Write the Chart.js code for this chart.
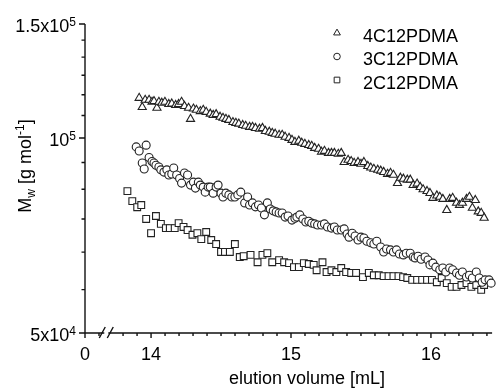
<!DOCTYPE html>
<html>
<head>
<meta charset="utf-8">
<script src="https://cdn.jsdelivr.net/npm/chart.js@4.4.1/dist/chart.umd.min.js"></script>
<style>
  html, body { margin: 0; padding: 0; background: #fff; }
</style>
</head>
<body>
<canvas id="grafik" width="498" height="388"></canvas>
<script>
// elution volume [mL] and Mw [g/mol]
const vol4C = [
  13.915, 13.937, 13.958, 13.986, 14.007, 14.021, 14.042, 14.056, 14.077, 14.099,
  14.127, 14.148, 14.176, 14.197, 14.218, 14.239, 14.268, 14.282, 14.303, 14.324,
  14.352, 14.373, 14.394, 14.423, 14.444, 14.465, 14.493, 14.514, 14.535, 14.556,
  14.585, 14.606, 14.627, 14.655, 14.676, 14.704, 14.725, 14.746, 14.775, 14.796,
  14.817, 14.845, 14.866, 14.887, 14.915, 14.937, 14.958, 14.986, 15.007, 15.028,
  15.056, 15.077, 15.099, 15.127, 15.148, 15.169, 15.197, 15.218, 15.239, 15.268,
  15.289, 15.310, 15.338, 15.359, 15.380, 15.408, 15.430, 15.451, 15.479, 15.500,
  15.521, 15.549, 15.570, 15.592, 15.620, 15.641, 15.662, 15.690, 15.711, 15.732,
  15.761, 15.782, 15.803, 15.831, 15.852, 15.873, 15.901, 15.923, 15.944, 15.972,
  15.993, 16.014, 16.042, 16.063, 16.085, 16.113, 16.134, 16.155, 16.183, 16.204,
  16.225, 16.254, 16.275, 16.296, 16.317, 16.338, 16.359, 16.380
];
const mw4C = [
  115300, 111600, 114500, 114500, 113700, 114000, 111300, 113700, 113300, 113700,
  112800, 113000, 112400, 112800, 113700, 112000, 111300, 107000, 111000, 110500,
  110000, 110500, 109700, 109000, 108500, 108800, 107800, 107400, 107000, 106600,
  105800, 105500, 105200, 104700, 104400, 104000, 104000, 103600, 103300, 103600,
  102500, 102200, 101800, 101500, 101100, 101100, 100400, 100000, 99300, 98600,
  99000, 98300, 97900, 97500, 97200, 96500, 96200, 95200, 95500, 94800,
  94800, 94800, 94500, 94800, 91800, 92500, 92100, 91500, 91800, 91200,
  91800, 90500, 90000, 89600, 89300, 89000, 88600, 88000, 88300, 87700,
  85200, 86800, 86500, 86200, 86200, 84600, 85000, 84000, 83300, 82800,
  82200, 80800, 81500, 81100, 80500, 77400, 80500, 80800, 79400, 78800,
  79400, 80500, 81100, 78000, 80200, 77000, 76600, 75300
];

const vol3C = [
  13.894, 13.915, 13.937, 13.951, 13.965, 13.986, 14.007, 14.021, 14.035, 14.056,
  14.070, 14.092, 14.113, 14.127, 14.148, 14.162, 14.183, 14.204, 14.218, 14.239,
  14.261, 14.282, 14.303, 14.317, 14.338, 14.352, 14.373, 14.387, 14.408, 14.423,
  14.444, 14.465, 14.479, 14.500, 14.514, 14.535, 14.556, 14.577, 14.599, 14.620,
  14.641, 14.669, 14.690, 14.704, 14.725, 14.746, 14.768, 14.789, 14.810, 14.831,
  14.852, 14.873, 14.894, 14.915, 14.937, 14.958, 14.979, 15.007, 15.028, 15.042,
  15.063, 15.085, 15.106, 15.127, 15.148, 15.169, 15.190, 15.218, 15.239, 15.261,
  15.289, 15.310, 15.331, 15.359, 15.380, 15.401, 15.415, 15.437, 15.458, 15.479,
  15.500, 15.521, 15.542, 15.570, 15.592, 15.613, 15.641, 15.662, 15.683, 15.711,
  15.732, 15.754, 15.775, 15.803, 15.824, 15.852, 15.873, 15.887, 15.908, 15.930,
  15.958, 15.979, 15.993, 16.014, 16.035, 16.063, 16.085, 16.106, 16.134, 16.155,
  16.183, 16.204, 16.225, 16.254, 16.275, 16.296, 16.324, 16.345, 16.366, 16.387,
  16.415, 16.430
];
const mw3C = [
  96900, 95500, 91500, 89600, 97500, 93300, 92000, 91500, 90800, 90200,
  89300, 88600, 89300, 87700, 88000, 89900, 87700, 86600, 85200, 88300,
  87700, 84600, 85500, 83700, 85500, 84600, 84000, 82500, 84000, 84000,
  82200, 84000, 84600, 82200, 81100, 82200, 81700, 81100, 81100, 81700,
  82500, 79400, 81100, 78800, 79400, 78300, 78800, 78000, 76100, 79400,
  77700, 77200, 76900, 76600, 76600, 75500, 75800, 74700, 75200, 75500,
  76100, 75000, 74200, 74400, 73900, 73700, 73400, 73400, 73700, 72900,
  72600, 72900, 72100, 72100, 72400, 71100, 70300, 71300, 70600, 69600,
  70300, 70100, 69300, 68900, 68600, 69300, 67900, 66700, 67400, 67200,
  66700, 67200, 66200, 66000, 66400, 66400, 65500, 65300, 65700, 65000,
  65500, 64800, 63700, 64100, 63200, 62600, 63000, 62100, 63000, 62600,
  61900, 61400, 62100, 61000, 61400, 60800, 62100, 60800, 59900, 60400,
  60400, 59700
];

const vol2C = [
  13.831, 13.866, 13.901, 13.930, 13.965, 14.000, 14.035, 14.070, 14.106, 14.134,
  14.169, 14.197, 14.232, 14.261, 14.296, 14.331, 14.359, 14.394, 14.430, 14.465,
  14.500, 14.528, 14.563, 14.599, 14.634, 14.662, 14.711, 14.761, 14.796, 14.831,
  14.866, 14.915, 14.951, 14.986, 15.021, 15.056, 15.092, 15.127, 15.162, 15.183,
  15.225, 15.254, 15.289, 15.324, 15.359, 15.394, 15.430, 15.465, 15.514, 15.556,
  15.592, 15.627, 15.662, 15.697, 15.732, 15.768, 15.801, 15.831, 15.866, 15.901,
  15.937, 15.972, 16.007, 16.042, 16.077, 16.113, 16.148, 16.183, 16.218, 16.254,
  16.289, 16.324, 16.359, 16.380
];
const mw2C = [
  82800, 79900, 78200, 78800, 75000, 71300, 75800, 73700, 72600, 72600,
  72600, 73900, 72900, 72100, 70900, 71300, 69800, 71600, 69600, 68600,
  66700, 66700, 66700, 68600, 65500, 65700, 66000, 64300, 66000, 66400,
  64300, 64800, 64300, 64100, 63200, 63200, 64100, 63900, 63700, 62500,
  64300, 62100, 62500, 62100, 63000, 62100, 61900, 61900, 61000, 61900,
  61400, 61400, 61200, 61200, 61200, 61200, 61000, 60800, 60400, 60400,
  60400, 60400, 60400, 59900, 60800, 59700, 58900, 58900, 59300, 59700,
  58900, 59300, 58300, 59300
];

const seriesNames = ["4C12PDMA", "3C12PDMA", "2C12PDMA"];

// axis: 0 at the origin, then a break, then 14..16
const X_ZERO = 13.528;
const X_BREAK = 13.68;
const X_MAJOR = [14, 15, 16];
const X_MINOR = [13.628, 13.8, 13.9, 14.1, 14.2, 14.3, 14.4, 14.5, 14.6, 14.7, 14.8, 14.9,
  15.1, 15.2, 15.3, 15.4, 15.5, 15.6, 15.7, 15.8, 15.9, 16.1, 16.2, 16.3, 16.4];
const X_MAX = 16.437;
const Y_MAJOR = [50000, 100000, 150000];
const Y_LABELS = [["5x10", "4"], ["10", "5"], ["1.5x10", "5"]];
const Y_MINOR = [58333, 66667, 75000, 83333, 91667, 108333, 116667, 125000, 133333, 141667];

const FONT = "'Liberation Sans', Arial, sans-serif";
Chart.defaults.font.family = FONT;
Chart.defaults.font.size = 18;
Chart.defaults.color = "#000";

const tinta = "#222";
const gaya = [
  { pointStyle: "triangle", radius: 4.7, legendRadius: 3.9 },
  { pointStyle: "circle", radius: 4.0, legendRadius: 3.3 },
  { pointStyle: "rect", radius: 4.8, legendRadius: 4.0 }
];

function titik(xs, ys) {
  return xs.map((x, i) => ({ x, y: ys[i] }));
}

function buatDataset(i, xs, ys) {
  return {
    label: seriesNames[i],
    data: titik(xs, ys),
    pointStyle: gaya[i].pointStyle,
    pointRadius: gaya[i].radius,
    pointHoverRadius: gaya[i].radius,
    borderColor: tinta,
    backgroundColor: "#fff",
    borderWidth: 1.1,
    clip: false
  };
}

function tulisBagian(ctx, bagian, x, y) {
  // bagian: [teks, ukuran, geserY]
  let cx = x;
  bagian.forEach(([t, s, dy]) => {
    ctx.font = `${s}px ${FONT}`;
    ctx.fillText(t, cx, y + dy);
    cx += ctx.measureText(t).width;
  });
}

function lebarBagian(ctx, bagian) {
  return bagian.reduce((w, [t, s]) => {
    ctx.font = `${s}px ${FONT}`;
    return w + ctx.measureText(t).width;
  }, 0);
}

const hiasanSumbu = {
  id: "hiasanSumbu",
  afterDraw(chart) {
    const { ctx, chartArea: a } = chart;
    const sx = chart.scales.x, sy = chart.scales.y;
    ctx.save();
    ctx.strokeStyle = "#111";
    ctx.fillStyle = "#000";
    ctx.lineWidth = 1.4;

    // axis lines and ticks
    ctx.beginPath();
    ctx.moveTo(a.left, a.top);
    ctx.lineTo(a.left, a.bottom);
    ctx.moveTo(a.left, a.bottom);
    ctx.lineTo(a.right, a.bottom);
    Y_MAJOR.forEach(v => {
      const p = sy.getPixelForValue(v);
      ctx.moveTo(a.left - 6, p); ctx.lineTo(a.left, p);
    });
    Y_MINOR.forEach(v => {
      const p = sy.getPixelForValue(v);
      ctx.moveTo(a.left - 3.5, p); ctx.lineTo(a.left, p);
    });
    [X_ZERO, ...X_MAJOR].forEach(v => {
      const p = sx.getPixelForValue(v);
      ctx.moveTo(p, a.bottom); ctx.lineTo(p, a.bottom + 5);
    });
    X_MINOR.forEach(v => {
      const p = sx.getPixelForValue(v);
      ctx.moveTo(p, a.bottom); ctx.lineTo(p, a.bottom + 3);
    });
    ctx.stroke();

    // axis break //
    const pb = sx.getPixelForValue(X_BREAK);
    ctx.fillStyle = "#fff";
    ctx.fillRect(pb - 2, a.bottom - 2, 4, 4);
    ctx.beginPath();
    ctx.moveTo(pb - 7, a.bottom + 5); ctx.lineTo(pb - 1, a.bottom - 6);
    ctx.moveTo(pb + 1, a.bottom + 5); ctx.lineTo(pb + 7, a.bottom - 6);
    ctx.stroke();
    ctx.fillStyle = "#000";

    // y tick labels with exponents
    ctx.textBaseline = "alphabetic";
    ctx.textAlign = "left";
    Y_MAJOR.forEach((v, i) => {
      const p = sy.getPixelForValue(v);
      const bagian = [[Y_LABELS[i][0], 18, 0], [Y_LABELS[i][1], 12, -6]];
      const w = lebarBagian(ctx, bagian);
      tulisBagian(ctx, bagian, a.left - 9 - w, p + 8);
    });

    // y title, rotated
    const judulY = [["M", 18, 0], ["w", 12, 4], [" [g mol", 18, 0], ["-1", 12, -7], ["]", 18, 0]];
    ctx.save();
    ctx.translate(31, 166);
    ctx.rotate(-Math.PI / 2);
    tulisBagian(ctx, judulY, -lebarBagian(ctx, judulY) / 2, 0);
    ctx.restore();

    // x title
    ctx.font = `18px ${FONT}`;
    ctx.textAlign = "center";
    ctx.fillText("elution volume [mL]", 307, 384);

    // legend
    ctx.textAlign = "left";
    gaya.forEach((g, i) => {
      const yy = a.top + 9 + i * 23.5;
      ctx.fillStyle = "#fff";
      ctx.strokeStyle = tinta;
      ctx.lineWidth = 1;
      Chart.helpers.drawPoint(ctx, { pointStyle: g.pointStyle, radius: g.legendRadius, rotation: 0, borderWidth: 1 }, 337, yy);
      ctx.fillStyle = "#000";
      ctx.font = `18px ${FONT}`;
      ctx.fillText(seriesNames[i], 363, yy + 8.5);
    });
    ctx.restore();
  }
};

new Chart(document.getElementById("grafik"), {
  type: "scatter",
  data: {
    datasets: [
      buatDataset(0, vol4C, mw4C),
      buatDataset(1, vol3C, mw3C),
      buatDataset(2, vol2C, mw2C)
    ]
  },
  options: {
    responsive: false,
    animation: false,
    devicePixelRatio: 1,
    layout: { padding: { top: 24, left: 0, right: 0, bottom: 0 } },
    plugins: { legend: { display: false }, tooltip: { enabled: false } },
    scales: {
      x: {
        type: "linear",
        min: X_ZERO,
        max: X_MAX,
        grid: { display: false },
        border: { display: false },
        afterBuildTicks: s => { s.ticks = [X_ZERO, ...X_MAJOR].map(v => ({ value: v })); },
        afterFit: s => { s.height = 55; },
        ticks: {
          autoSkip: false,
          maxRotation: 0,
          padding: 3,
          font: { size: 18 },
          color: "#000",
          callback: v => (v === X_ZERO ? "0" : String(v))
        }
      },
      y: {
        type: "logarithmic",
        min: 50000,
        max: 150000,
        grid: { display: false },
        border: { display: false },
        afterBuildTicks: s => { s.ticks = Y_MAJOR.map(v => ({ value: v })); },
        afterFit: s => { s.width = 85; },
        ticks: { display: false }
      }
    }
  },
  plugins: [hiasanSumbu]
});
</script>
</body>
</html>
